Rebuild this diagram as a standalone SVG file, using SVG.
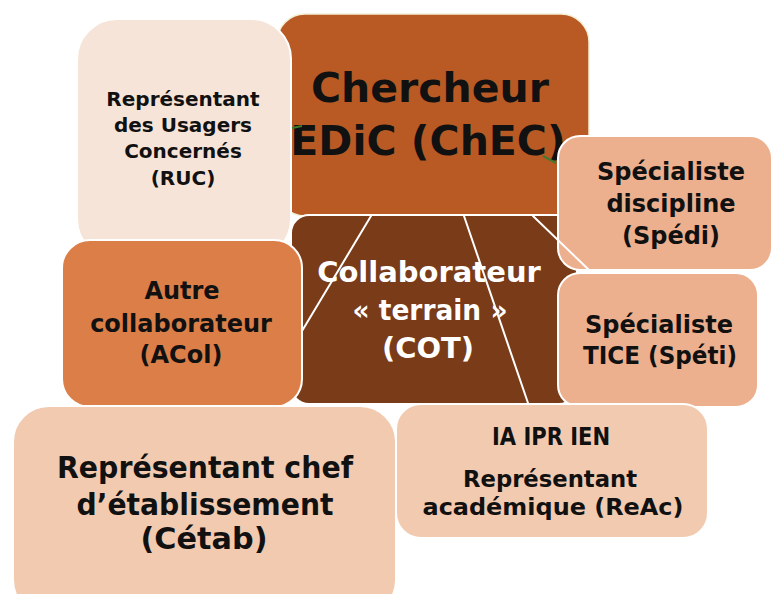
<svg xmlns="http://www.w3.org/2000/svg" width="771" height="594" viewBox="0 0 771 594">
  <style>
    .box { stroke: #ffffff; stroke-width: 2; }
    .lbl { font-family: "DejaVu Sans", "Liberation Sans", sans-serif; font-weight: bold; text-anchor: middle; fill: #111111; }
    .link { stroke: #ffffff; stroke-width: 2; fill: none; stroke-linecap: round; }
    .tie { stroke: #3f7a2e; stroke-width: 2; fill: none; }
  </style>
  <rect width="771" height="594" fill="#ffffff"/>

  <!-- central researcher -->
  <g id="chec">
    <rect x="277" y="14" width="312" height="202" rx="28" fill="#b95a25" stroke="#f3f0d6" stroke-width="1.5"/>
    <text class="lbl" font-size="41" x="430" y="102">Chercheur</text>
    <text class="lbl" font-size="41" x="428" y="155">EDiC (ChEC)</text>
  </g>

  <!-- field collaborator -->
  <g id="cot">
    <rect class="box" x="291" y="215" width="286" height="189" rx="18" fill="#7a3b18"/>
    <text class="lbl" font-size="29" x="429" y="282" fill="#ffffff" style="fill:#ffffff">Collaborateur</text>
    <text class="lbl" font-size="29" x="430" y="320" textLength="155" lengthAdjust="spacingAndGlyphs" style="fill:#ffffff">« terrain »</text>
    <text class="lbl" font-size="29" x="428" y="358" style="fill:#ffffff">(COT)</text>
  </g>

  <g id="ruc">
    <rect class="box" x="77" y="19" width="214" height="240" rx="40" fill="#f7e4d9"/>
    <text class="lbl" font-size="20" x="183" y="106">Représentant</text>
    <text class="lbl" font-size="20" x="183" y="132">des Usagers</text>
    <text class="lbl" font-size="20" x="183" y="158">Concernés</text>
    <text class="lbl" font-size="20" x="183" y="185">(RUC)</text>
  </g>

  <g id="acol">
    <rect class="box" x="62" y="240" width="240" height="167" rx="28" fill="#dc7e47"/>
    <text class="lbl" font-size="24" x="182" y="299">Autre</text>
    <text class="lbl" font-size="24" x="181" y="332">collaborateur</text>
    <text class="lbl" font-size="24" x="181" y="363">(ACol)</text>
  </g>

  <g id="spedi">
    <rect class="box" x="558" y="136" width="214" height="134" rx="22" fill="#edb08e"/>
    <text class="lbl" font-size="24" x="671" y="180">Spécialiste</text>
    <text class="lbl" font-size="24" x="671" y="212">discipline</text>
    <text class="lbl" font-size="24" x="671" y="244">(Spédi)</text>
  </g>

  <g id="speti">
    <rect class="box" x="558" y="273" width="200" height="134" rx="22" fill="#edb08e"/>
    <text class="lbl" font-size="24" x="659" y="333">Spécialiste</text>
    <text class="lbl" font-size="24" x="660" y="364" textLength="154" lengthAdjust="spacingAndGlyphs">TICE (Spéti)</text>
  </g>

  <g id="cetab">
    <rect class="box" x="13" y="406" width="383" height="210" rx="36" fill="#f1cab0"/>
    <text class="lbl" font-size="31" x="205" y="478" textLength="296" lengthAdjust="spacingAndGlyphs">Représentant chef</text>
    <text class="lbl" font-size="31" x="205" y="515" textLength="257" lengthAdjust="spacingAndGlyphs">d’établissement</text>
    <text class="lbl" font-size="31" x="204" y="549" textLength="127" lengthAdjust="spacingAndGlyphs">(Cétab)</text>
  </g>

  <g id="reac">
    <rect class="box" x="396" y="404" width="312" height="134" rx="25" fill="#f1cab0"/>
    <text class="lbl" font-size="24" x="551" y="445" textLength="118" lengthAdjust="spacingAndGlyphs">IA IPR IEN</text>
    <text class="lbl" font-size="23" x="550" y="487" textLength="174" lengthAdjust="spacingAndGlyphs">Représentant</text>
    <text class="lbl" font-size="23" x="553" y="515" textLength="261" lengthAdjust="spacingAndGlyphs">académique (ReAc)</text>
  </g>

  <!-- connectors -->
  <g id="connectors">
    <line class="link" x1="371" y1="216" x2="302" y2="331"/>
    <line class="link" x1="464" y1="216" x2="528" y2="403"/>
    <line class="link" x1="533" y1="216" x2="589" y2="270"/>
    <line class="tie" x1="292" y1="128" x2="302" y2="126"/>
    <line class="tie" x1="543" y1="156" x2="556" y2="163"/>
  </g>
</svg>
